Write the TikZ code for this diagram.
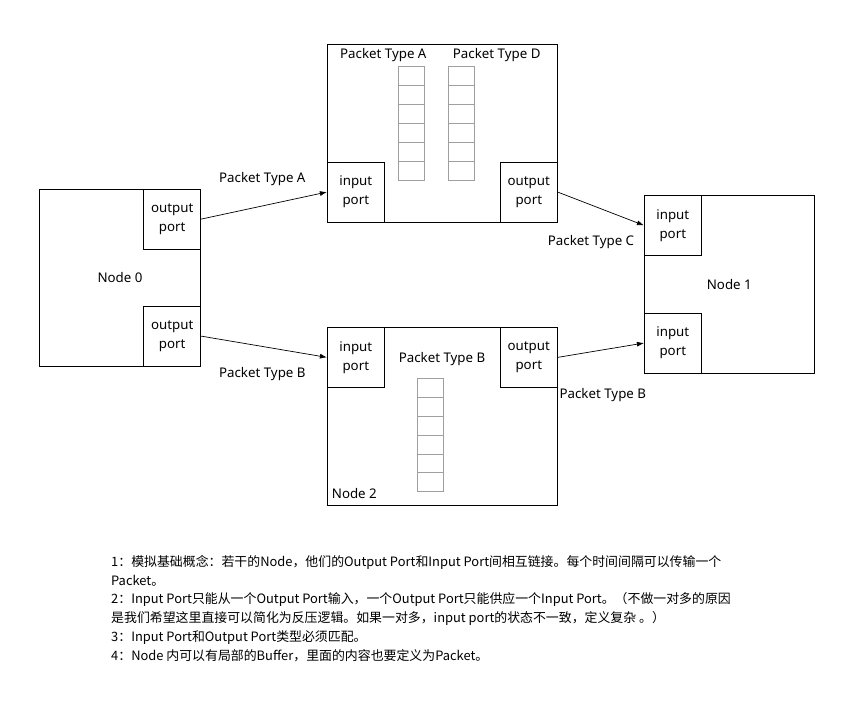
\documentclass[tikz,border=0pt]{standalone}
\usepackage{fontspec}
\setmainfont{Noto Sans}
\newfontfamily\cjkfont{Noto Sans CJK SC}
\usetikzlibrary{arrows.meta,positioning}

\begin{document}
\begin{tikzpicture}[
  x=1pt, y=-1pt,
  box/.style={rectangle, draw, line width=0.8pt, inner sep=0pt},
  port/.style={rectangle, draw, line width=0.8pt, minimum width=57pt, minimum height=60pt, align=center, inner sep=0pt},
  cell/.style={rectangle, draw=gray!75, line width=0.8pt, minimum width=26pt, minimum height=19pt, inner sep=0pt},
  link/.style={-{Latex[length=7pt,width=5pt]}, line width=0.7pt},
  font=\fontsize{13.3}{19}\selectfont
]
\useasboundingbox (0,0) rectangle (853,716);

% Node 0
\node[box, minimum width=161.5pt, minimum height=177pt] (node0) at (120,277.6) {Node 0};
\node[port, anchor=north east] (n0out1) at (node0.north east) {output\\port};
\node[port, anchor=south east] (n0out2) at (node0.south east) {output\\port};

% Node 3 (two buffers)
\node[box, minimum width=230pt, minimum height=177.3pt] (node3) at (442.3,133.4) {};
\node[port, anchor=south west] (n3in) at (node3.south west) {input\\port};
\node[port, anchor=south east] (n3out) at (node3.south east) {output\\port};
\node (bufAlbl) at (383.3,55.5) {Packet Type A};
\node (bufDlbl) at (496.7,55.5) {Packet Type D};
\foreach \i in {0,...,5} {
  \node[cell, anchor=north] (bufA\i) at (411.3,{66.3+19*\i}) {};
  \node[cell, anchor=north] (bufD\i) at (461.3,{66.3+19*\i}) {};
}

% Node 2
\node[box, minimum width=230pt, minimum height=177.7pt] (node2) at (442.3,416.2) {};
\node[port, anchor=north west] (n2in) at (node2.north west) {input\\port};
\node[port, anchor=north east] (n2out) at (node2.north east) {output\\port};
\node (bufBlbl) at (442,359) {Packet Type B};
\foreach \i in {0,...,5}
  \node[cell, minimum height=18.8pt, anchor=north] (bufB\i) at (430.3,{378.3+18.8*\i}) {};
\node[anchor=west, inner sep=0pt] (node2lbl) at (331.7,493) {Node 2};

% Node 1
\node[box, minimum width=170pt, minimum height=177.7pt] (node1) at (729.3,284.2) {Node 1};
\node[port, anchor=north west] (n1in1) at (node1.north west) {input\\port};
\node[port, anchor=south west] (n1in2) at (node1.south west) {input\\port};

% Links
\draw[link] (n0out1.east) -- (n3in.west);
\draw[link] (n0out2.east) -- (n2in.west);
\draw[link] (n3out.east) -- (n1in1.west);
\draw[link] (n2out.east) -- (n1in2.west);

\node (linkA) at (262.3,179) {Packet Type A};
\node (linkB) at (262.3,374) {Packet Type B};
\node (linkC) at (591,242.5) {Packet Type C};
\node (linkB2) at (602.8,394.8) {Packet Type B};

% Notes
\node[anchor=north west, align=left, inner sep=0pt, font=\cjkfont\fontsize{12.9}{18.8}\selectfont] (notes) at (111,555) {%
1：模拟基础概念：若干的Node，他们的Output Port和Input Port间相互链接。每个时间间隔可以传输一个\\
Packet。\\
2：Input Port只能从一个Output Port输入，一个Output Port只能供应一个Input Port。（不做一对多的原因\\
是我们希望这里直接可以简化为反压逻辑。如果一对多，input port的状态不一致，定义复杂 。）\\
3：Input Port和Output Port类型必须匹配。\\
4：Node 内可以有局部的Buffer，里面的内容也要定义为Packet。};

\end{tikzpicture}
\end{document}
